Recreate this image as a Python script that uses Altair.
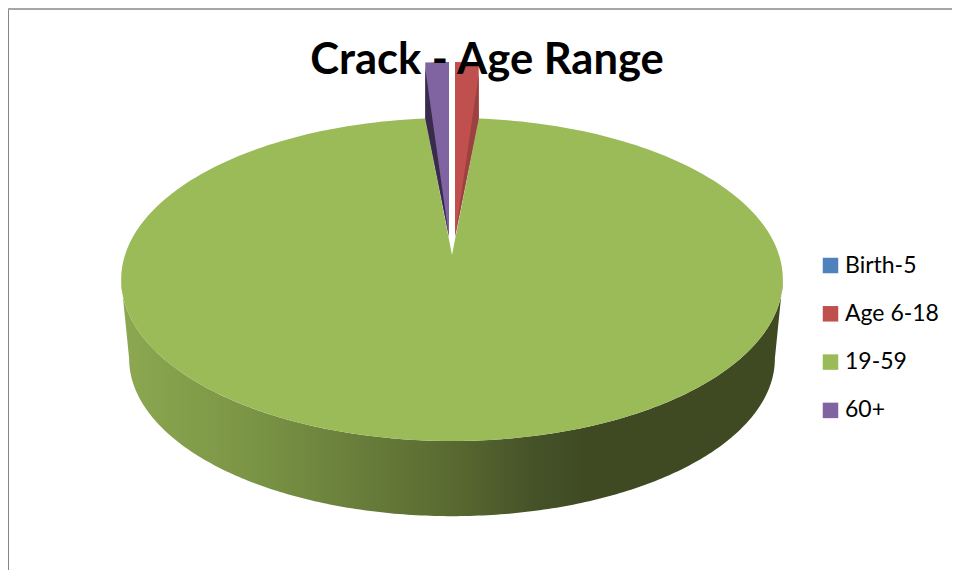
import math
import altair as alt
import pandas as pd

# chart values (share of cases, %)
categories = ["Birth-5", "Age 6-18", "19-59", "60+"]
shares = [0.0, 1.5, 97.0, 1.5]
colors = ["#4F81BD", "#C0504D", "#9BBB59", "#8064A2"]
title_text = "Crack - Age Range"

W, H = 944, 562
OX, OY = 8, 8          # page margin
CX, Y0 = 452, 255      # pie centre as seen in perspective
R, HY, K = 327, 157.8, 0.1517
LIFT, APEX_LIFT, GAP = 56, 18, 3


def rim(theta):
    t = math.radians(theta)
    w = 1 + K * math.cos(t)
    return CX + R * math.sin(t) / w, Y0 - HY * math.cos(t) / w


def arc(a, b, n=240):
    return [rim(a + (b - a) * i / n) for i in range(n + 1)]


def frame(points, **extra):
    return pd.DataFrame(
        [{"x": p[0], "y": p[1], "i": i, **extra} for i, p in enumerate(points)]
    )


# slice angles from the shares
total = sum(shares)
angles = {}
cum = 0.0
for c, s in zip(categories, shares):
    angles[c] = (cum / total * 360, (cum + s) / total * 360)
    cum += s

# wall of the disc
widest = math.degrees(math.acos(-K))
upper = arc(widest, 360 - widest)
cy_top = 279.5
lower = [(CX + 0.976 * (x - CX), 358.5 + 0.976 * (y - cy_top)) for x, y in upper][::-1]
wall = frame(upper + lower)

# top faces
a0, a1 = angles["19-59"]
pieces = [frame([(CX, Y0)] + arc(a0, a1), age="19-59")]
dark_frames = []
for name, side, ang, col, drop in [
    ("Age 6-18", 1, angles["Age 6-18"][1], "#9B413F", 12),
    ("60+", -1, angles["60+"][0], "#382B4C", 6),
]:
    ox, oy = rim(ang)
    ax = CX + side * GAP
    ay = Y0 - APEX_LIFT
    pieces.append(
        frame([(ax, ay), (ax, rim(0)[1] - LIFT), (ox, oy - LIFT), (ox, oy)], age=name)
    )
    dark_frames.append(
        frame([(ax, ay), (ox, oy - LIFT + drop), (ox, oy)], col=col, age=name)
    )
slices = pd.concat(pieces, ignore_index=True)

x_enc = alt.X("x:Q", scale=alt.Scale(domain=[OX, OX + W], nice=False, zero=False), axis=None)
y_enc = alt.Y("y:Q", scale=alt.Scale(domain=[OY + H, OY], nice=False, zero=False), axis=None)
ord_enc = alt.Order("i:Q")

gradient = alt.Gradient(
    gradient="linear", x1=0, x2=1, y1=0, y2=0,
    stops=[
        alt.GradientStop(offset=0.0, color="#8CA850"),
        alt.GradientStop(offset=0.2, color="#7A9445"),
        alt.GradientStop(offset=0.37, color="#677C3A"),
        alt.GradientStop(offset=0.5, color="#596A30"),
        alt.GradientStop(offset=0.62, color="#465329"),
        alt.GradientStop(offset=0.7, color="#3F4A22"),
        alt.GradientStop(offset=1.0, color="#3F4A22"),
    ],
)

wall_layer = alt.Chart(wall).mark_line(fill=gradient, strokeWidth=0).encode(
    x=x_enc, y=y_enc, order=ord_enc
)

top_layer = alt.Chart(slices).mark_line(strokeWidth=0).encode(
    x=x_enc, y=y_enc, order=ord_enc,
    fill=alt.Fill(
        "age:N",
        scale=alt.Scale(domain=categories, range=colors),
        legend=alt.Legend(
            title=None, orient="none", legendX=811, legendY=246,
            symbolType="square", symbolSize=240, symbolStrokeWidth=0,
            labelFont="Lato", labelFontSize=23, labelColor="#000000",
            labelOffset=3, rowPadding=24.3,
        ),
    ),
)

dark_layers = [
    alt.Chart(d).mark_line(fill=d["col"][0], strokeWidth=0).encode(
        x=x_enc, y=y_enc, order=ord_enc
    )
    for d in dark_frames
]

left_line = alt.Chart(pd.DataFrame({"a": [0]})).mark_rule(color="#868686", strokeWidth=1).encode(
    x=alt.value(0.5), y=alt.value(0), y2=alt.value(H)
)
top_line = alt.Chart(pd.DataFrame({"a": [0]})).mark_rule(color="#A6A6A6", strokeWidth=2).encode(
    y=alt.value(1), x=alt.value(0), x2=alt.value(W)
)

chart = alt.layer(
    wall_layer, top_layer, *dark_layers, left_line, top_line
).properties(
    width=W, height=H,
    padding=0,
    autosize=alt.AutoSizeParams(type="none", contains="padding"),
    background="#FFFFFF",
    title=alt.TitleParams(
        title_text, font="Lato", fontSize=43.5, fontWeight="bold", color="#000000",
        anchor="middle", frame="group", offset=0, dx=7, dy=76,
    ),
).configure_view(stroke=None)

chart.save("out.html", embed_options={"renderer": "svg", "actions": False})
